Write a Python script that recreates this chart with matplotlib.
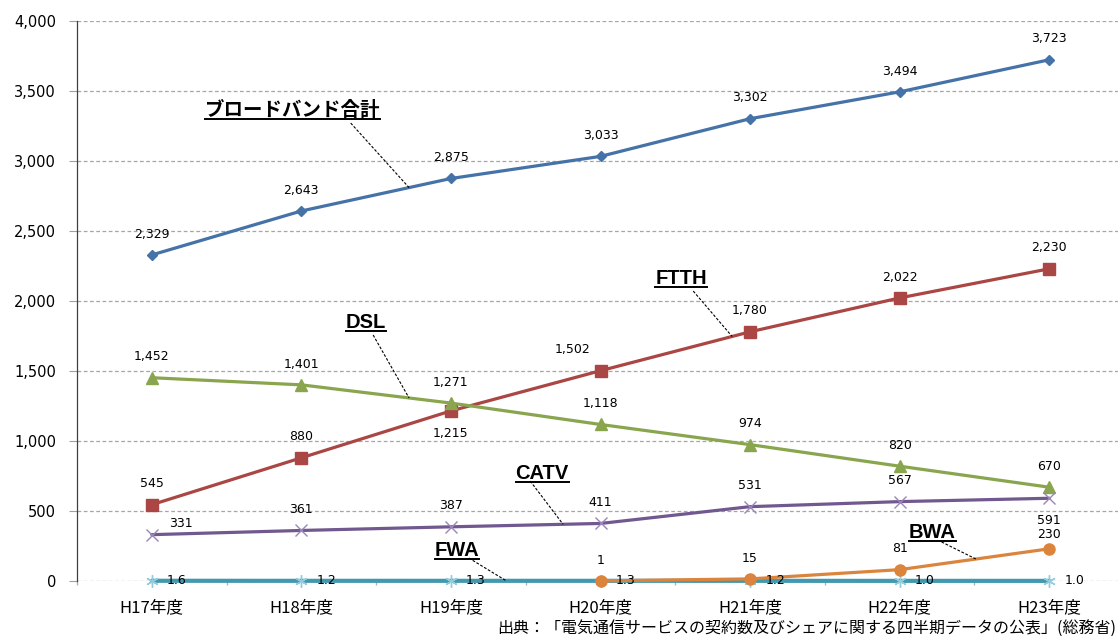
import matplotlib
matplotlib.use("Agg")
import matplotlib.pyplot as plt
import numpy as np
from matplotlib.lines import Line2D
from matplotlib.ticker import FuncFormatter

plt.rcParams['font.family'] = ['Noto Sans CJK JP', 'DejaVu Sans']

# data (万契約)
categories = ["H17年度", "H18年度", "H19年度", "H20年度", "H21年度", "H22年度", "H23年度"]
broadband = [2329, 2643, 2875, 3033, 3302, 3494, 3723]
ftth = [545, 880, 1215, 1502, 1780, 2022, 2230]
dsl = [1452, 1401, 1271, 1118, 974, 820, 670]
catv = [331, 361, 387, 411, 531, 567, 591]
fwa = [1.6, 1.2, 1.3, 1.3, 1.2, 1.0, 1.0]
bwa = [np.nan, np.nan, np.nan, 1, 15, 81, 230]

source = "出典：「電気通信サービスの契約数及びシェアに関する四半期データの公表」(総務省)"

x = np.arange(len(categories))

fig = plt.figure(figsize=(11.18, 6.36), dpi=100)
ax = fig.add_axes([77 / 1118, 55 / 636, 1047 / 1118, 560 / 636])
ax.set_xlim(-0.5, 6.5)
ax.set_ylim(0, 4000)

# series: values, colour, line width, marker, marker size, marker colour, label format, label offsets (pt)
series = [
    ("ブロードバンド合計", broadband, "#4572A7", 2.3, "D", 5.5, "#4572A7", "{:,.0f}", {}),
    ("FTTH", ftth, "#AA4643", 2.3, "s", 8, "#AA4643", "{:,.0f}",
     {2: (0, -16), 3: (-20, 15)}),
    ("DSL", dsl, "#89A54E", 2.3, "^", 8, "#89A54E", "{:,.0f}", {}),
    ("CATV", catv, "#71588F", 2.3, "x", 8, "#9A86B8", "{:,.0f}",
     {0: (21, 8), 6: (0, -16)}),
    ("FWA", fwa, "#4198AF", 3.0, (6, 2, 0), 9, "#93CDDD", "{:.1f}", {}),
    ("BWA", bwa, "#DB843D", 2.3, "o", 8, "#DB843D", "{:,.0f}", {6: (0, 10)}),
]

for name, vals, color, lw, marker, ms, mcolor, fmt, offsets in series:
    ax.plot(x, vals, color=color, lw=lw, marker=marker, ms=ms,
            mfc=mcolor, mec=mcolor, mew=1.0, solid_capstyle='round',
            clip_on=False, zorder=3)
    for i, v in enumerate(vals):
        if np.isnan(v):
            continue
        if name == "FWA":
            ax.annotate(fmt.format(v), (x[i], v), xytext=(18, 0), textcoords='offset points',
                        ha='center', va='center', fontsize=9, family='DejaVu Sans', zorder=5)
            continue
        dx, dy = offsets.get(i, (0, 15))
        ax.annotate(fmt.format(v), (x[i], v), xytext=(dx, dy), textcoords='offset points',
                    ha='center', va='center', fontsize=9, family='DejaVu Sans', zorder=5)

# callout labels: text position, leader start, leader end x (on the line)
callouts = [
    ("ブロードバンド合計", broadband, (0.94, 3364), (1.33, 3271), 1.72),
    ("DSL", dsl, (1.43, 1843), (1.48, 1757), 1.72),
    ("FTTH", ftth, (3.54, 2164), (3.62, 2071), 3.88),
    ("CATV", catv, (2.61, 771), (2.53, 714), 2.75),
    ("FWA", fwa, (2.04, 221), (2.12, 164), 2.37),
    ("BWA", bwa, (5.22, 350), (5.28, 279), 5.51),
]

label_texts = []
for name, vals, txy, start, ex in callouts:
    valid = ~np.isnan(np.asarray(vals, dtype=float))
    ey = np.interp(ex, x[valid], np.asarray(vals, dtype=float)[valid])
    if name.isascii():
        t = ax.text(txy[0], txy[1], name, ha='center', va='center', fontsize=14.5,
                    fontweight='bold', family='Liberation Sans', zorder=6)
    else:
        t = ax.text(txy[0], txy[1], name, ha='center', va='center', fontsize=14,
                    fontweight='bold', zorder=6)
    label_texts.append(t)
    ax.plot([start[0], ex], [start[1], ey], color='black', lw=0.8,
            linestyle=(0, (2.5, 1.5)), zorder=4)

# underline the callout labels
fig.canvas.draw()
renderer = fig.canvas.get_renderer()
inv = fig.transFigure.inverted()
for t in label_texts:
    bb = t.get_window_extent(renderer)
    (x0, y0), (x1, y1) = inv.transform([(bb.x0, bb.y0 + 1), (bb.x1, bb.y0 + 1)])
    fig.add_artist(Line2D([x0, x1], [y0, y1], color='black', lw=1.4))

# axes styling
ax.set_yticks(np.arange(0, 4001, 500))
ax.yaxis.set_major_formatter(FuncFormatter(lambda v, p: f"{v:,.0f}"))
ax.tick_params(axis='y', length=6, color='#a0a0a0', pad=9, labelsize=10.5)
for lab in ax.get_yticklabels():
    lab.set_family('DejaVu Sans')
ax.set_xticks(x, categories)
ax.tick_params(axis='x', length=0, pad=13, labelsize=12)
ax.set_xticks(np.arange(-0.5, 7, 1), minor=True)
ax.tick_params(axis='x', which='minor', length=3, width=1, color='#b0b0b0', direction='out')

ax.yaxis.grid(True, linestyle=(0, (3, 2)), color='#a6a6a6', lw=0.9, zorder=0)
ax.set_axisbelow(True)
for s in ['top', 'right', 'bottom']:
    ax.spines[s].set_visible(False)
ax.spines['left'].set_linestyle((0, (2, 1)))
ax.spines['left'].set_color('#404040')
ax.spines['left'].set_linewidth(0.9)

fig.text(497 / 1118, 1 - 629 / 636, source, fontsize=11.5, va='center', ha='left')

fig.savefig("out.png", dpi=100)
